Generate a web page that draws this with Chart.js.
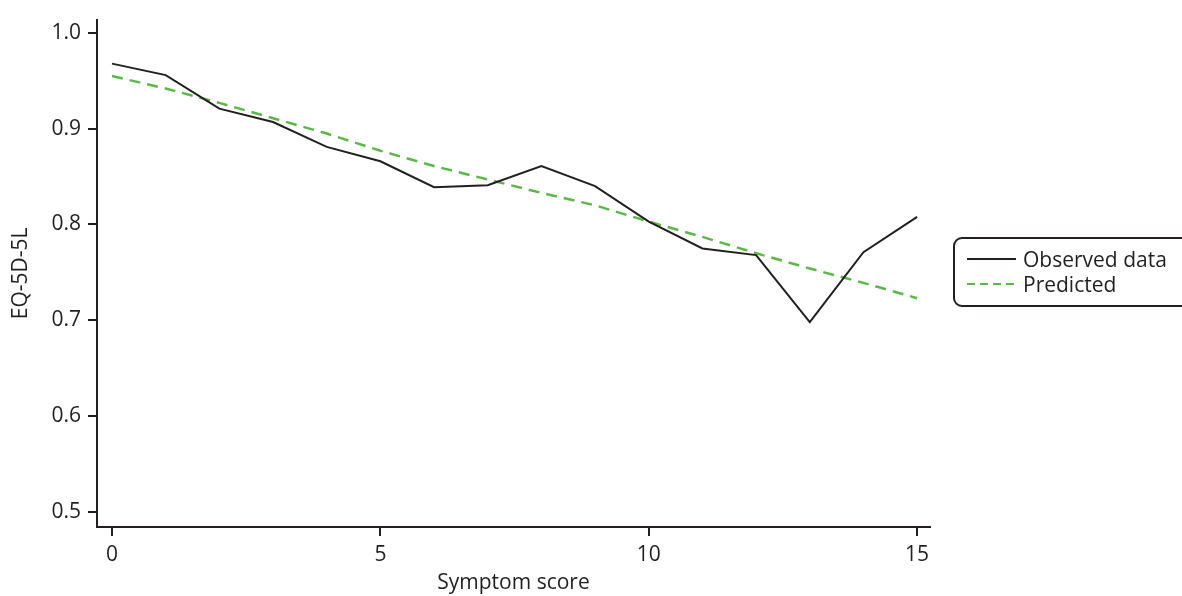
<!DOCTYPE html>
<html lang="en">
<head>
    <meta charset="UTF-8">
    <title>EQ-5D-5L by symptom score</title>
    <script src="https://cdn.jsdelivr.net/npm/chart.js"></script>
    <style>
        html, body { margin: 0; padding: 0; background: #fff; }
        #wrap { position: relative; width: 1182px; height: 596px; overflow: hidden; }
        #legend {
            position: absolute; left: 953px; top: 237px; width: 260px; height: 70px;
            border: 2px solid #231f20; border-radius: 9px; box-sizing: border-box;
            font-family: "Open Sans", sans-serif; font-size: 21px; color: #231f20;
        }
        .row { position: absolute; left: 12px; height: 26px; display: flex; align-items: center; }
        .row span.line { display: inline-block; width: 49px; height: 2px; margin-right: 7px; }
    </style>
</head>
<body>
<div id="wrap">
    <canvas id="chart" width="1182" height="596"></canvas>
    <div id="legend">
        <div class="row" style="top:7px"><span class="line" style="background:#231f20"></span>Observed data</div>
        <div class="row" style="top:32px"><span class="line" style="height:2.5px;background:repeating-linear-gradient(to right,#5ab946 0 8px,transparent 8px 13px)"></span>Predicted</div>
    </div>
</div>
<script>
    // symptom score 0..15
    const scores = [0, 1, 2, 3, 4, 5, 6, 7, 8, 9, 10, 11, 12, 13, 14, 15];
    const observed = [0.968, 0.956, 0.921, 0.907, 0.881, 0.866, 0.839, 0.841, 0.861, 0.840, 0.803, 0.775, 0.768, 0.698, 0.771, 0.808];
    const predicted = [0.955, 0.942, 0.927, 0.911, 0.895, 0.877, 0.861, 0.847, 0.833, 0.820, 0.803, 0.787, 0.770, 0.754, 0.739, 0.723];
    const xTicks = [0, 5, 10, 15];
    const yTicks = [0.5, 0.6, 0.7, 0.8, 0.9, 1.0];

    const ink = '#231f20';
    const green = '#5ab946';
    const font = { family: '"Open Sans", sans-serif', size: 21 };

    new Chart(document.getElementById('chart'), {
        type: 'line',
        data: {
            datasets: [{
                label: 'Observed data',
                data: scores.map((s, i) => ({ x: s, y: observed[i] })),
                borderColor: ink,
                borderWidth: 2,
                pointRadius: 0,
                tension: 0
            }, {
                label: 'Predicted',
                data: scores.map((s, i) => ({ x: s, y: predicted[i] })),
                borderColor: green,
                borderWidth: 2.5,
                borderDash: [11, 7],
                pointRadius: 0,
                tension: 0
            }]
        },
        options: {
            responsive: false,
            animation: false,
            layout: { padding: { top: 16, right: 252, left: 0, bottom: 0 } },
            plugins: { legend: { display: false }, tooltip: { enabled: false } },
            scales: {
                x: {
                    type: 'linear',
                    min: -0.28,
                    max: 15.24,
                    afterBuildTicks: s => { s.ticks = xTicks.map(v => ({ value: v })); },
                    afterFit: s => { s.height = 69; },
                    grid: { drawOnChartArea: false, drawTicks: true, tickLength: 9, color: ink, lineWidth: 2 },
                    border: { display: true, color: ink, width: 2 },
                    ticks: { color: ink, font: font, padding: 6, maxRotation: 0 },
                    title: { display: true, text: 'Symptom score', color: ink, font: font, padding: { top: 0, bottom: 0 } }
                },
                y: {
                    min: 0.484,
                    max: 1.014,
                    afterBuildTicks: s => { s.ticks = yTicks.map(v => ({ value: v })); },
                    afterFit: s => { s.width = 97; },
                    grid: { drawOnChartArea: false, drawTicks: true, tickLength: 9, color: ink, lineWidth: 2 },
                    border: { display: true, color: ink, width: 2 },
                    ticks: { color: ink, font: font, padding: 7, callback: v => v.toFixed(1) },
                    title: { display: true, text: 'EQ-5D-5L', color: ink, font: font, padding: { top: 8, bottom: 0 } }
                }
            }
        }
    });
</script>
</body>
</html>
